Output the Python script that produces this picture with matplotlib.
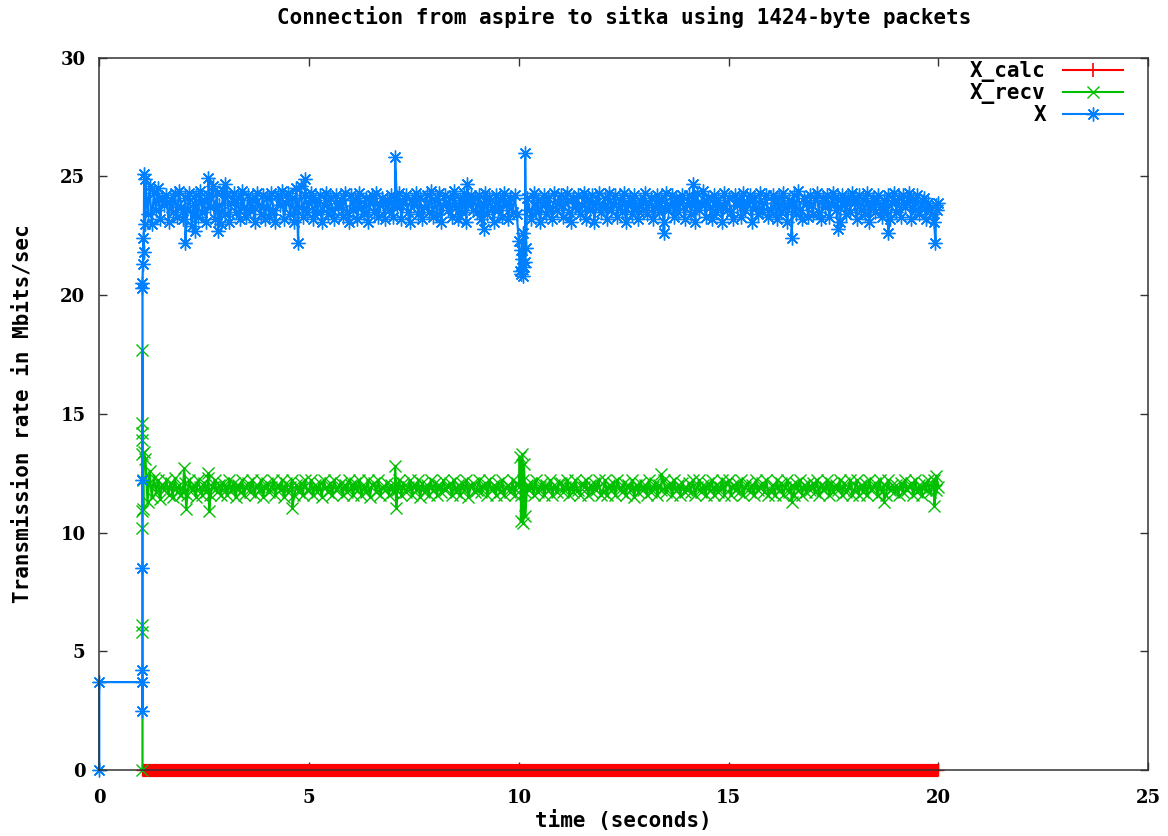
import numpy as np
import matplotlib.pyplot as plt
from matplotlib.lines import Line2D

# sample grid of the dense part of the trace (seconds)
t_band = np.linspace(1.1, 19.95, 378)

# X (Mbits/sec), one row per second
x_band = [
    24.9, 23.4, 24.6, 23.0, 24.3, 23.6, 24.5, 23.2, 24.1, 23.8, 24.2, 23.1, 24.0, 23.5, 24.3, 23.3, 24.4, 23.7,
    23.2, 24.1, 23.6, 24.3, 22.9, 23.9, 24.2, 23.3, 24.4, 23.5, 24.0, 23.1, 24.2, 23.7, 24.6, 23.2, 24.3, 23.8, 23.0, 24.4,
    23.4, 24.2, 23.1, 23.9, 24.3, 23.5, 24.1, 23.2, 24.4, 23.7, 23.3, 24.2, 23.6, 24.0, 23.1, 24.3, 23.8, 23.4, 24.2, 23.2,
    24.1, 23.3, 24.3, 23.6, 23.1, 24.2, 23.8, 24.4, 23.2, 23.9, 24.3, 23.4, 24.1, 23.1, 24.5, 23.7, 24.6, 23.3, 24.2, 23.5,
    23.9, 24.3, 23.2, 24.0, 23.5, 24.2, 23.1, 23.8, 24.3, 23.4, 24.1, 23.6, 23.2, 24.2, 23.7, 24.0, 23.3, 24.3, 23.5, 23.1,
    24.2, 23.6, 24.0, 23.2, 24.3, 23.7, 23.4, 24.1, 23.1, 23.9, 24.2, 23.5, 24.3, 23.3, 23.8, 24.1, 23.2, 24.0, 23.6, 24.2,
    23.3, 24.1, 23.7, 24.3, 23.2, 23.9, 24.2, 23.5, 23.1, 24.0, 23.8, 24.3, 23.4, 24.1, 23.2, 23.7, 24.2, 23.5, 24.4, 23.3,
    24.0, 23.4, 24.3, 23.1, 23.8, 24.2, 23.6, 24.1, 23.3, 24.4, 23.7, 23.2, 24.0, 23.5, 24.3, 23.1, 23.9, 24.2, 23.6, 24.1,
    23.5, 24.2, 23.2, 23.9, 24.3, 23.4, 24.1, 23.7, 23.1, 24.2, 23.6, 24.0, 23.3, 24.3, 23.8, 23.2, 24.1, 23.5, 24.2, 23.4,
    22.3, 21.9, 22.6, 21.4, 24.1, 23.6, 23.2, 24.3, 23.5, 24.0, 23.1, 23.8, 24.2, 23.4, 24.1, 23.7, 23.2, 24.3, 23.6, 23.9,
    24.2, 23.3, 23.9, 24.3, 23.5, 23.1, 24.1, 23.7, 24.2, 23.4, 23.8, 24.3, 23.2, 24.0, 23.6, 24.2, 23.1, 23.9, 24.3, 23.5,
    23.7, 24.1, 23.2, 24.3, 23.6, 23.9, 24.2, 23.3, 24.0, 23.5, 24.3, 23.1, 23.8, 24.1, 23.4, 24.2, 23.7, 23.2, 24.0, 23.6,
    24.3, 23.4, 23.9, 24.1, 23.2, 23.7, 24.2, 23.5, 24.0, 23.1, 24.3, 23.6, 23.8, 24.2, 23.3, 24.1, 23.5, 23.9, 24.2, 23.2,
    23.8, 24.2, 23.4, 24.0, 23.1, 24.3, 23.6, 23.9, 24.4, 23.3, 24.1, 23.7, 23.2, 24.2, 23.5, 24.0, 23.8, 23.1, 24.3, 23.6,
    24.1, 23.5, 23.2, 24.2, 23.8, 24.0, 23.3, 24.3, 23.6, 23.9, 24.2, 23.1, 24.1, 23.7, 23.4, 24.3, 23.5, 23.9, 24.2, 23.3,
    23.6, 24.2, 23.9, 23.2, 24.1, 23.5, 24.3, 23.7, 23.1, 24.0, 23.8, 24.2, 23.4, 24.4, 23.6, 23.2, 24.1, 23.9, 23.3, 24.2,
    23.4, 24.0, 24.3, 23.5, 23.2, 24.1, 23.7, 24.2, 23.3, 23.9, 24.3, 23.6, 24.0, 23.1, 24.2, 23.8, 23.4, 24.1, 23.5, 24.3,
    23.9, 23.2, 24.2, 23.6, 24.0, 23.4, 24.3, 23.1, 23.8, 24.1, 23.5, 24.2, 23.7, 23.3, 24.0, 23.6, 24.2, 23.2, 23.9, 24.3,
    23.5, 24.1, 23.3, 24.2, 23.7, 23.9, 24.3, 23.2, 24.0, 23.6, 24.2, 23.4, 23.8, 24.1, 23.2, 23.9, 23.6, 23.4, 23.1, 23.8,
]
# start-up points and isolated outliers of X
t_x_extra = [0.0, 0.0, 1.03, 1.03, 1.03, 1.03, 1.03, 1.03, 1.03, 1.04, 1.05, 1.06, 1.07, 1.08,
             2.05, 2.29, 2.6, 2.83, 3.0, 4.74, 4.9, 7.05, 8.77, 9.16,
             10.02, 10.05, 10.08, 10.1, 10.12, 10.15, 10.17,
             13.45, 14.16, 16.5, 17.6, 18.8, 19.93, 19.96, 20.0]
x_extra = [0.0, 3.7, 3.7, 2.5, 4.2, 8.5, 12.2, 20.3, 20.5, 21.3, 22.4, 21.8, 25.1, 23.0,
           22.2, 22.7, 24.95, 22.7, 24.7, 22.2, 24.9, 25.8, 24.7, 22.8,
           21.0, 20.9, 21.5, 20.8, 21.2, 26.0, 22.0,
           22.6, 24.7, 22.4, 22.8, 22.6, 22.2, 23.6, 23.9]

# X_recv (Mbits/sec)
recv_band = [
    13.1, 11.3, 12.6, 11.5, 12.3, 11.7, 12.2, 11.4, 12.0, 11.8, 12.2, 11.6, 12.1, 11.5, 12.3, 11.7, 12.0, 11.6,
    11.7, 12.1, 11.6, 12.2, 11.8, 12.0, 11.5, 12.2, 11.9, 11.6, 12.1, 11.7, 12.3, 11.6, 11.9, 12.2, 11.7, 12.0, 11.6, 12.1,
    11.9, 11.6, 12.2, 11.8, 12.1, 11.5, 12.0, 11.7, 12.2, 11.6, 11.9, 12.1, 11.7, 12.2, 11.6, 12.0, 11.8, 12.2, 11.5, 11.9,
    12.1, 11.7, 11.9, 12.2, 11.6, 12.0, 11.8, 12.2, 11.5, 12.1, 11.7, 11.9, 12.2, 11.6, 12.0, 11.7, 12.1, 11.6, 12.2, 11.8,
    11.8, 12.2, 11.6, 12.0, 11.7, 12.1, 11.5, 12.2, 11.9, 11.7, 12.1, 11.6, 12.2, 11.8, 11.9, 12.1, 11.6, 12.0, 11.7, 12.2,
    12.0, 11.6, 12.1, 11.8, 12.2, 11.6, 11.9, 11.7, 12.2, 11.5, 12.0, 12.1, 11.7, 12.2, 11.6, 11.9, 11.8, 12.1, 11.6, 12.0,
    11.7, 12.0, 11.8, 12.2, 11.6, 12.1, 11.7, 11.9, 12.2, 11.6, 12.0, 11.8, 12.2, 11.5, 12.1, 11.7, 12.0, 11.6, 12.2, 11.8,
    12.1, 11.6, 12.0, 11.7, 12.2, 11.8, 11.9, 12.1, 11.6, 12.2, 11.7, 12.0, 11.6, 12.1, 11.8, 12.2, 11.5, 11.9, 12.1, 11.7,
    11.8, 12.2, 11.7, 11.9, 12.1, 11.6, 12.2, 11.8, 12.0, 11.6, 12.1, 11.7, 12.2, 11.6, 11.9, 12.0, 11.7, 12.2, 11.6, 12.1,
    11.9, 11.6, 12.2, 11.7, 12.0, 11.8, 12.1, 11.6, 12.2, 11.7, 11.9, 12.1, 11.6, 12.0, 11.8, 12.2, 11.6, 12.0, 11.7, 12.1,
    12.1, 11.7, 11.9, 12.2, 11.6, 12.0, 11.7, 12.2, 11.8, 11.6, 12.1, 11.9, 12.2, 11.6, 12.0, 11.7, 12.1, 11.8, 12.2, 11.6,
    11.7, 12.2, 11.6, 12.0, 11.8, 12.1, 11.6, 12.2, 11.9, 11.7, 12.1, 11.6, 12.0, 11.8, 12.2, 11.5, 12.0, 11.7, 12.1, 11.8,
    12.0, 11.6, 12.2, 11.7, 11.9, 12.1, 11.6, 12.0, 11.8, 12.2, 11.7, 11.9, 12.1, 11.6, 12.2, 11.8, 12.0, 11.6, 12.1, 11.7,
    11.8, 12.1, 11.7, 12.2, 11.6, 11.9, 12.2, 11.7, 12.0, 11.6, 12.1, 11.8, 12.2, 11.6, 12.0, 11.7, 11.9, 12.2, 11.6, 12.1,
    12.2, 11.6, 12.0, 11.8, 12.1, 11.7, 12.2, 11.6, 11.9, 12.1, 11.7, 12.0, 11.6, 12.2, 11.8, 11.9, 12.1, 11.7, 12.2, 11.6,
    11.7, 12.0, 11.6, 12.2, 11.8, 12.1, 11.6, 11.9, 12.2, 11.7, 12.0, 11.6, 12.1, 11.8, 12.2, 11.6, 12.0, 11.7, 12.1, 11.8,
    12.1, 11.7, 12.2, 11.6, 12.0, 11.8, 11.9, 12.2, 11.6, 12.1, 11.7, 12.0, 11.8, 12.2, 11.6, 12.1, 11.7, 11.9, 12.2, 11.6,
    11.8, 12.2, 11.6, 12.0, 11.7, 12.1, 11.6, 12.2, 11.8, 11.9, 12.1, 11.6, 12.2, 11.7, 12.0, 11.6, 12.2, 11.8, 12.0, 11.7,
    12.0, 11.6, 12.1, 11.7, 12.2, 11.8, 11.9, 12.1, 11.6, 12.2, 11.7, 12.0, 11.6, 12.1, 11.8, 12.2, 11.7, 11.9, 12.2, 11.8,
]
t_recv_extra = [1.03, 1.03, 1.03, 1.03, 1.03, 1.03, 1.03, 1.03, 1.03, 1.03, 1.04, 1.05, 1.06,
                2.02, 2.07, 2.6, 2.62, 4.6, 7.05, 7.08,
                10.02, 10.05, 10.08, 10.1, 10.12, 10.15,
                13.4, 16.5, 18.7, 19.9, 19.95, 20.0]
recv_extra = [0.0, 6.1, 5.8, 17.7, 14.6, 14.2, 13.9, 13.3, 10.2, 10.9, 12.2, 11.0, 13.4,
              12.7, 11.0, 12.5, 10.9, 11.05, 12.8, 11.05,
              13.2, 10.5, 13.3, 10.4, 12.9, 10.7,
              12.45, 11.3, 11.3, 11.1, 12.4, 11.9]

# X_calc stays at 0 over the whole run
t_calc = np.linspace(1.03, 19.98, 190)
x_calc = np.zeros(len(t_calc))


def merge(t_a, v_a, t_b, v_b):
    t = np.concatenate([t_a, t_b])
    v = np.concatenate([v_a, v_b])
    order = np.argsort(t, kind="stable")
    return t[order], v[order]


t_x, x_vals = merge(t_band, x_band, t_x_extra, x_extra)
t_recv, recv_vals = merge(t_band, recv_band, t_recv_extra, recv_extra)

red, green, blue = "#ff0000", "#00c000", "#0080ff"
star = (8, 2, 0)
mono = "DejaVu Sans Mono"

fig = plt.figure(figsize=(11.68, 8.36), dpi=100)
ax = fig.add_axes([0.085, 0.079, 0.898, 0.852])

ax.plot(t_calc, x_calc, color=red, lw=9.5, marker="+", ms=9, mew=1,
        solid_capstyle="butt", clip_on=False, zorder=2)
ax.plot(t_recv, recv_vals, color=green, lw=1.6, marker="x", ms=9, mew=1,
        clip_on=False, zorder=3)
ax.plot(t_x, x_vals, color=blue, lw=1.6, marker=star, ms=10, mew=1,
        clip_on=False, zorder=4)

ax.set_xlim(0, 25)
ax.set_ylim(0, 30)
ax.set_xticks([0, 5, 10, 15, 20, 25])
ax.set_yticks([0, 5, 10, 15, 20, 25, 30])
ax.tick_params(direction="in", length=6, width=1, color="#333333",
               top=True, right=True)
ax.tick_params(axis="x", pad=14)
ax.tick_params(axis="y", pad=10)
for lab in ax.get_xticklabels() + ax.get_yticklabels():
    lab.set_fontfamily("DejaVu Serif")
    lab.set_fontweight("bold")
    lab.set_fontsize(13)
for sp in ax.spines.values():
    sp.set_color("#333333")
    sp.set_linewidth(1.1)
    sp.set_zorder(5)

ax.set_title("Connection from aspire to sitka using 1424-byte packets",
             fontfamily=mono, fontweight="bold", fontsize=15, pad=24)
ax.set_xlabel("time (seconds)", fontfamily=mono, fontweight="bold", fontsize=15, labelpad=2)
ax.set_ylabel("Transmission rate in Mbits/sec", fontfamily=mono, fontweight="bold",
              fontsize=15, labelpad=20)

handles = [
    Line2D([], [], color=red, lw=1.5, marker="|", ms=10, mew=1.2),
    Line2D([], [], color=green, lw=1.5, marker="x", ms=8, mew=1),
    Line2D([], [], color=blue, lw=1.5, marker=star, ms=10, mew=1),
]
ax.legend(handles, ["X_calc", "X_recv", "X"], loc="upper right",
          bbox_to_anchor=(0.976, 0.995), frameon=False,
          markerfirst=False, handlelength=2.9, handletextpad=0.8,
          labelspacing=0.05, borderaxespad=0, borderpad=0, numpoints=1,
          prop={"family": mono, "weight": "bold", "size": 15})

fig.savefig("out.png", dpi=100)
